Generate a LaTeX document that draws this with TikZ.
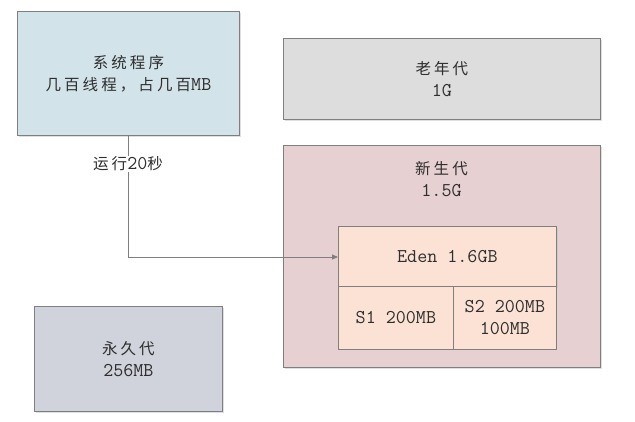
\documentclass[tikz,border=0pt]{standalone}
\usepackage{fontspec}
\setmainfont{Latin Modern Mono}
\newfontfamily\cjkfam[LetterSpace=20]{Noto Sans CJK SC}
\newcommand{\zh}[1]{{\cjkfam\fontsize{15.5}{22}\selectfont #1}}
\usetikzlibrary{arrows.meta,shadows}
\definecolor{bordergray}{HTML}{7F7F7F}
\definecolor{sysblue}{HTML}{D2E3EA}
\definecolor{oldgray}{HTML}{DDDDDD}
\definecolor{youngpink}{HTML}{E7D0D1}
\definecolor{edenpeach}{HTML}{FBE2D5}
\definecolor{permgray}{HTML}{D0D2DC}
\definecolor{txtgray}{HTML}{2E2E2E}
\tikzset{
  txt/.style={text=txtgray, font=\fontsize{19.5}{22}\selectfont, align=center},
  box/.style={draw=bordergray, line width=0.8pt, inner sep=0pt, anchor=north west,
    drop shadow={shadow xshift=1.2pt, shadow yshift=-1.2pt, fill=black!25, opacity=0.5}, txt},
  flatbox/.style={draw=bordergray, line width=0.8pt, inner sep=0pt, anchor=north west, txt},
  conn/.style={draw=bordergray, line width=0.8pt, -{Triangle[length=6pt,width=5pt]}},
}
\begin{document}
\begin{tikzpicture}[x=1pt,y=-1pt]
\useasboundingbox (0,0) rectangle (635,422);
\node[box, fill=sysblue, minimum width=222pt, minimum height=124pt] (sys) at (17,11)
  {\zh{系统程序}\\\zh{几百线程，占几百}MB};
\node[box, fill=oldgray, minimum width=317pt, minimum height=81pt] (old) at (283,38)
  {\zh{老年代}\\1G};
\node[box, fill=youngpink, minimum width=317pt, minimum height=222pt] (young) at (283,145) {};
\node[txt] (ylabel) at (441.5,179)
  {\zh{新生代}\\1.5G};
\node[box, fill=edenpeach, minimum width=218pt, minimum height=60pt] (eden) at (338,226)
  {Eden 1.6GB};
\node[flatbox, fill=edenpeach, minimum width=115pt, minimum height=63pt] (s1) at (338,286)
  {S1 200MB};
\node[flatbox, fill=edenpeach, minimum width=103pt, minimum height=63pt] (s2) at (453,286)
  {S2 200MB\\100MB};
\node[box, fill=permgray, minimum width=188pt, minimum height=105pt] (perm) at (34,306)
  {\zh{永久代}\\256MB};
\coordinate (bend) at (128,257);
\draw[conn] (sys.south -| bend) -- (bend) -- (eden.west |- bend);
\node[txt, fill=white, inner sep=1pt] (lab) at (128,164)
  {\zh{运行}20\zh{秒}};
\end{tikzpicture}
\end{document}
